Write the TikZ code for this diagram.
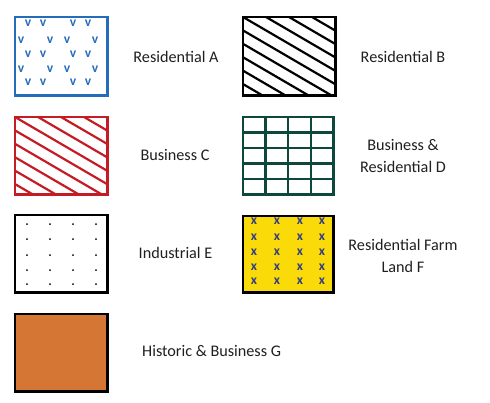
\documentclass[tikz,border=0pt]{standalone}
\usepackage{fontspec}
\setmainfont{Carlito}
\usetikzlibrary{calc}
\definecolor{blueA}{RGB}{38,108,188}
\definecolor{redC}{RGB}{196,28,36}
\definecolor{tealD}{RGB}{14,72,60}
\definecolor{yellowF}{RGB}{250,218,8}
\definecolor{markF}{RGB}{52,62,130}
\definecolor{orangeG}{RGB}{214,118,52}
\begin{document}
\begin{tikzpicture}[x=1pt,y=-1pt,
  lab/.style={font=\fontsize{16.2}{22.5}\selectfont, anchor=base, align=center, inner sep=0pt, text=black!88},
  boxnode/.style={minimum width=92pt, minimum height=78pt, inner sep=0pt, anchor=north west},
  boxline/.style={line width=2.6pt},
  hatch/.style={line width=2.2pt},
  gridline/.style={line width=2.3pt, draw=tealD},
  vmark/.style={text=blueA, font=\fontsize{13.5}{13.5}\selectfont\bfseries, inner sep=0pt},
  xmark/.style={text=markF, font=\fontsize{13.5}{13.5}\selectfont\bfseries, inner sep=0pt}]
\useasboundingbox (0,0) rectangle (490,402);

% ---- Box A : blue v pattern
\node[boxnode] (a) at (15,17) {};
\foreach \y/\xs in {23/{28,43,73,88},40/{21,50,67,95},54/{28,43,73,88},69/{21,50,67,95},82/{28,43,73,88}}{
  \foreach \x in \xs {\node[vmark] at (\x,\y) {v};}
}
\draw[boxline, draw=blueA] (a.north west) rectangle (a.south east);

% ---- Box B : black hatch
\node[boxnode] (b) at (243,17) {};
\begin{scope}
  \clip (b.north west) rectangle (b.south east);
  \foreach \k in {-8,...,4} \draw[hatch] (243+23*\k,17) -- ++(160,93.3);
\end{scope}
\draw[boxline] (b.north west) rectangle (b.south east);

% ---- Box C : red hatch
\node[boxnode, minimum height=77pt] (c) at (15,117) {};
\begin{scope}
  \clip (c.north west) rectangle (c.south east);
  \foreach \k in {-8,...,4} \draw[hatch, draw=redC] (15+23*\k,117) -- ++(160,93.3);
\end{scope}
\draw[boxline, draw=redC] (c.north west) rectangle (c.south east);

% ---- Box D : teal grid
\node[boxnode, minimum width=90pt, minimum height=77pt] (d) at (243,117) {};
\foreach \i in {1,2,3} \draw[gridline] ($(d.north west)!\i/4!(d.north east)$) -- ($(d.south west)!\i/4!(d.south east)$);
\foreach \j in {1,2,3,4} \draw[gridline] ($(d.north west)!\j/5!(d.south west)$) -- ($(d.north east)!\j/5!(d.south east)$);
\draw[boxline, draw=tealD] (d.north west) rectangle (d.south east);

% ---- Box E : dots
\node[boxnode, minimum height=77pt] (e) at (15,215) {};
\foreach \x in {27,50,73,96} \foreach \y in {224,239,255,270,284} \fill (\x,\y) circle (1pt);
\draw[boxline] (e.north west) rectangle (e.south east);

% ---- Box F : yellow with x marks
\node[boxnode, minimum width=90pt, minimum height=76pt, fill=yellowF] (f) at (243,216) {};
\foreach \x in {254,277,300,322} \foreach \y in {221,237,252,267,281}
  \node[xmark] at (\x,\y) {x};
\draw[boxline] (f.north west) rectangle (f.south east);

% ---- Box G : orange
\node[boxnode, minimum height=77pt, fill=orangeG] (g) at (15,314) {};
\draw[boxline] (g.north west) rectangle (g.south east);

% ---- Labels
\node[lab] (la) at (176,62) {Residential A};
\node[lab] (lb) at (403,62) {Residential B};
\node[lab] (lc) at (175,160) {Business C};
\node[lab] (ld) at (403,172.7) {Business \&\\Residential D};
\node[lab] (le) at (175.5,258.3) {Industrial E};
\node[lab] (lf) at (403,272.7) {Residential Farm\\Land F};
\node[lab, anchor=base west] (lg) at (142,356.7) {Historic \& Business G};
\end{tikzpicture}
\end{document}
